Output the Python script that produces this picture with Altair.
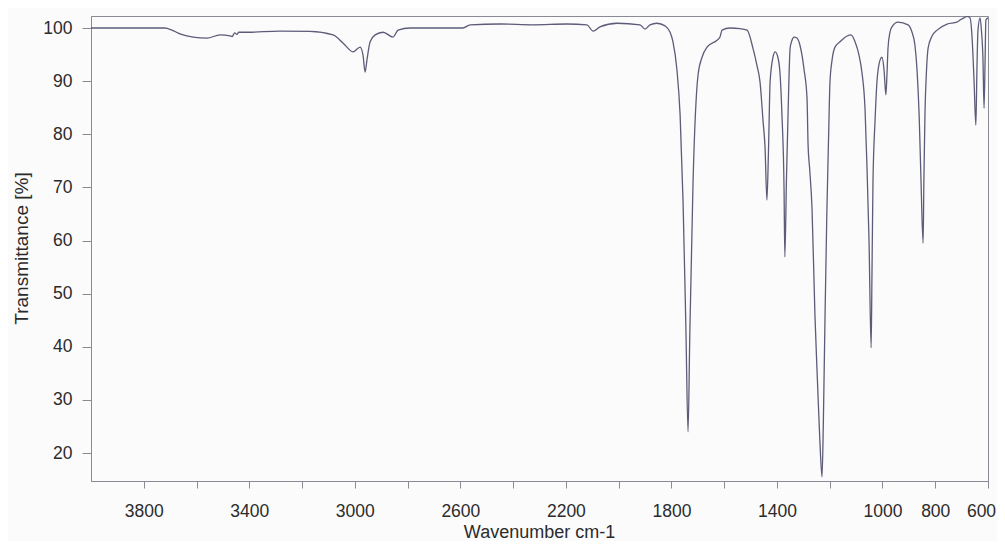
import altair as alt
import pandas as pd

# IR spectrum (wavenumber cm-1, transmittance %)
WAVENUMBER = [
    4000, 3852, 3720, 3693, 3663, 3613, 3560, 3511, 3473, 3465, 3455, 3447, 3440,
    3409, 3284, 3170, 3083, 3045, 3007, 2980, 2969, 2961, 2954, 2942, 2923, 2893,
    2855, 2836, 2791, 2704, 2590, 2563, 2450, 2325, 2196, 2120, 2097, 2071, 2006,
    1919, 1900, 1881, 1855, 1824, 1805, 1794, 1779, 1767, 1756, 1745, 1737, 1730,
    1718, 1699, 1684, 1665, 1627, 1616, 1608, 1578, 1540, 1513, 1491, 1476, 1464,
    1453, 1445, 1438, 1432, 1426, 1415, 1407, 1396, 1388, 1381, 1373, 1370, 1364,
    1358, 1350, 1343, 1335, 1324, 1313, 1297, 1286, 1282, 1276, 1267, 1256, 1246,
    1237, 1229, 1224, 1218, 1211, 1204, 1199, 1191, 1180, 1161, 1134, 1119, 1104,
    1089, 1078, 1066, 1059, 1051, 1043, 1040, 1036, 1028, 1021, 1009, 1002, 994,
    987, 983, 979, 972, 964, 941, 903, 888, 877, 869, 861, 854, 846, 843, 839,
    833, 827, 812, 793, 755, 718, 706, 691, 680, 668, 661, 653, 646, 642, 638,
    630, 625, 619, 615, 611, 608, 600,
]
TRANSMITTANCE = [
    100.0, 100.0, 100.0, 99.6, 98.9, 98.3, 98.1, 98.7, 98.5, 98.4, 99.1, 98.8, 99.2,
    99.2, 99.4, 99.35, 98.7, 97.2, 95.5, 96.4, 94.9, 91.7, 94.0, 97.4, 98.7, 99.2,
    98.3, 99.6, 100.0, 100.0, 100.0, 100.6, 100.75, 100.6, 100.75, 100.6, 99.4, 100.2, 100.9,
    100.6, 99.8, 100.6, 100.9, 100.4, 99.2, 97.4, 92.1, 83.6, 67.6, 43.2, 24.0, 43.2,
    71.0, 91.2, 94.5, 96.4, 97.7, 98.3, 99.6, 100.0, 99.9, 99.6, 96.2, 93.0, 89.8,
    82.7, 77.4, 67.6, 77.0, 89.8, 94.5, 95.5, 94.4, 91.2, 83.6, 69.5, 56.9, 71.4,
    83.6, 96.2, 97.7, 98.3, 98.1, 96.8, 92.1, 86.8, 78.0, 73.5, 66.0, 46.0, 33.0,
    22.0, 15.5, 26.0, 45.0, 64.8, 80.0, 89.8, 94.0, 96.4, 97.4, 98.5, 98.7, 97.4,
    94.9, 91.7, 84.6, 74.2, 60.1, 39.8, 52.6, 71.0, 82.7, 89.8, 94.0, 94.5, 92.1,
    87.4, 91.2, 96.2, 99.1, 100.2, 101.1, 100.6, 99.2, 96.8, 92.1, 83.6, 71.4, 59.5, 71.4, 83.6,
    92.1, 96.2, 98.5, 99.6, 100.75, 101.1, 101.5, 101.9, 102.2, 101.9, 98.7, 90.2, 81.7, 92.1, 99.6,
    101.9, 99.6, 94.0, 84.9, 94.0, 101.5, 101.9,
]

X_TICKS = [3800, 3600, 3400, 3200, 3000, 2800, 2600, 2400, 2200, 2000,
           1800, 1600, 1400, 1200, 1000, 800, 600]
X_LABELS = [3800, 3400, 3000, 2600, 2200, 1800, 1400, 1000, 800, 600]
Y_TICKS = [20, 30, 40, 50, 60, 70, 80, 90, 100]

df = pd.DataFrame({"wn": WAVENUMBER, "T": TRANSMITTANCE})

label_expr = ("indexof([" + ",".join(str(v) for v in X_LABELS) +
              "], datum.value) >= 0 ? datum.label : ''")

AXIS_COLOR = "#8a8a94"
TEXT_COLOR = "#2b2b2b"
FONT = "Liberation Sans"

chart = alt.Chart(df).mark_line(
    color="#5c5c78", strokeWidth=1.3, clip=True, interpolate="monotone"
).encode(
    x=alt.X(
        "wn:Q",
        scale=alt.Scale(domain=[600, 4000], reverse=True, nice=False, zero=False),
        axis=alt.Axis(
            values=X_TICKS, labelExpr=label_expr, format="d",
            title="Wavenumber cm-1", grid=False,
            tickSize=7, tickColor=AXIS_COLOR, domainColor=AXIS_COLOR,
            labelFont=FONT, labelFontSize=17.5, labelColor=TEXT_COLOR,
            labelBaseline="alphabetic", labelPadding=28, labelFlush=False,
            labelOverlap=False,
            labelOffset=alt.condition("datum.value == 600", alt.value(-7), alt.value(0)),
            titleFont=FONT, titleFontSize=18, titleFontWeight="normal",
            titleColor=TEXT_COLOR, titleBaseline="alphabetic",
            titleX=448, titleY=56, titleAlign="center",
        ),
    ),
    y=alt.Y(
        "T:Q",
        scale=alt.Scale(domain=[14.73, 102.26], nice=False, zero=False),
        axis=alt.Axis(
            values=Y_TICKS, title="Transmittance [%]", grid=False,
            tickSize=9, tickColor=AXIS_COLOR, domainColor=AXIS_COLOR,
            labelFont=FONT, labelFontSize=17.5, labelColor=TEXT_COLOR,
            labelPadding=10, labelBaseline="middle",
            titleFont=FONT, titleFontSize=19, titleFontWeight="normal",
            titleColor=TEXT_COLOR, titleBaseline="alphabetic",
            titleAngle=270, titleAlign="center", titleX=-64, titleY=232,
        ),
    ),
).properties(
    width=897,
    height=465,
    autosize=alt.AutoSizeParams(type="none"),
    padding={"left": 83, "top": 8, "right": 9, "bottom": 60},
    background="#fbfbfc",
).configure_view(
    stroke=AXIS_COLOR, strokeWidth=1
)

chart.save("out.html", embed_options={"renderer": "svg", "actions": False})
